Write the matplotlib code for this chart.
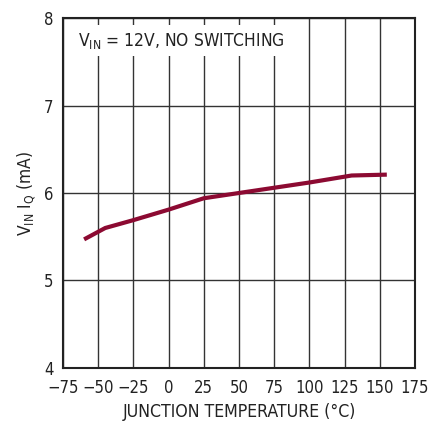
import matplotlib
matplotlib.use('Agg')
import matplotlib.pyplot as plt

plt.rcParams['font.family'] = ['DejaVu Sans']
plt.rcParams['font.stretch'] = 'condensed'

# quiescent current vs junction temperature
temperature = [-60, -45, -25, 0, 25, 50, 75, 100, 130, 155]
iq_ma = [5.47, 5.60, 5.69, 5.81, 5.94, 6.00, 6.06, 6.12, 6.20, 6.21]

x_ticks = [-75, -50, -25, 0, 25, 50, 75, 100, 125, 150, 175]
y_ticks = [4, 5, 6, 7, 8]

fig = plt.figure(figsize=(4.32, 4.22), dpi=100)
ax = fig.add_axes([0.1458, 0.128, 0.8148, 0.8293])

ax.set_xlim(-75, 175)
ax.set_ylim(4, 8)
ax.set_xticks(x_ticks)
ax.set_yticks(y_ticks)
ax.set_xticklabels([str(t).replace('-', '\u2212') for t in x_ticks])
ax.tick_params(length=0, labelsize=12, colors='#222222')
ax.tick_params(axis='x', pad=8)
ax.tick_params(axis='y', pad=7)

ax.grid(True, color='#333333', linewidth=1.0)
ax.set_axisbelow(True)
for s in ax.spines.values():
    s.set_linewidth(1.5)
    s.set_color('#222222')

ax.plot(temperature, iq_ma, color='#8c0a32', linewidth=3, solid_capstyle='butt',
        zorder=3)

ax.text(-64.5, 7.74, r'V$_{\mathregular{IN}}$ = 12V, NO SWITCHING', fontsize=12.5,
        va='center', ha='left', color='#222222',
        bbox=dict(facecolor='white', edgecolor='none', pad=4), zorder=2)

ax.set_xlabel('JUNCTION TEMPERATURE (\u00b0C)', fontsize=12.7, color='#222222',
              labelpad=4)
ax.set_ylabel(r'V$_{\mathregular{IN}}$ I$_{\mathregular{Q}}$ (mA)', fontsize=12.5,
              color='#222222', labelpad=4)

fig.savefig('out.png', dpi=100)
